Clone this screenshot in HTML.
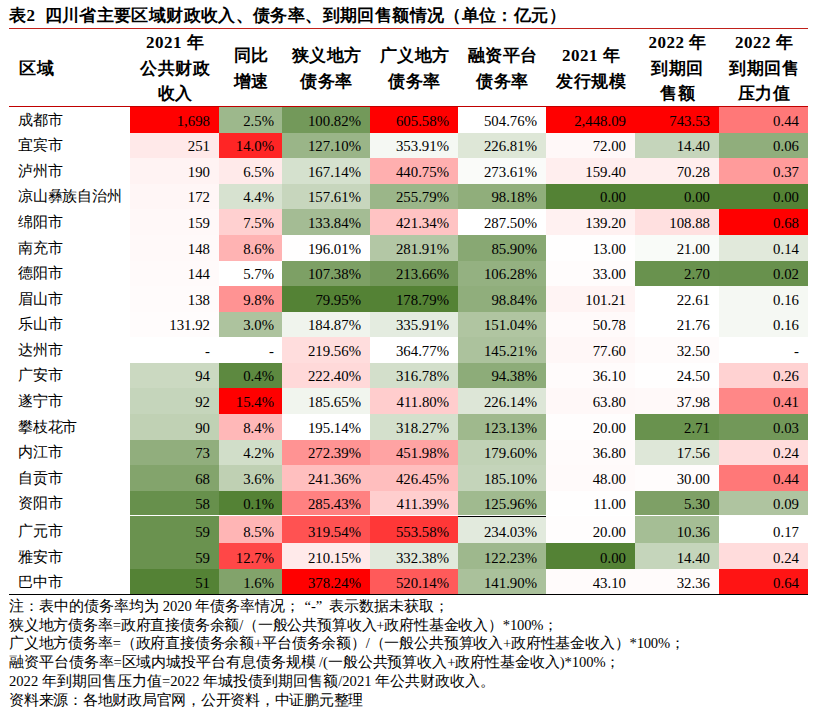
<!DOCTYPE html><html><head><meta charset="utf-8"><style>
*{margin:0;padding:0;box-sizing:border-box}
html,body{width:815px;height:717px;background:#fff;overflow:hidden}
body{position:relative;font-family:"Liberation Serif",serif;color:#000}
.a{position:absolute}
.t{position:absolute;left:9px;top:5px;font-size:17px;letter-spacing:0.38px;font-weight:bold;white-space:nowrap;line-height:22px}
.hl{position:absolute;height:1px}
.h{position:absolute;top:30px;height:77px;display:flex;align-items:center;justify-content:center;text-align:center;font-weight:bold;font-size:17px;line-height:25.5px;letter-spacing:0.5px;padding-left:1px}
.c{position:absolute;text-align:right;font-size:14.8px;padding-right:9px;white-space:nowrap}
.c span{position:absolute;right:9px;bottom:0;line-height:23px}
.c.p2 span{right:8px}
.n{position:absolute;left:18px;font-size:14.6px;letter-spacing:-0.2px;white-space:nowrap}
.n span{position:absolute;left:0;bottom:0;line-height:23px}
.note{position:absolute;left:9px;font-size:14.6px;line-height:18.7px;white-space:nowrap}
.q{margin:0 3px 0 4px}
</style></head><body>
<div class="t">表<span style="display:inline-block">2</span>&nbsp; 四川省主要区域财政收入、债务率、到期回售额情况（单位：亿元）</div>
<div class="hl" style="left:9px;top:28px;width:799px;background:#c0201a"></div>
<div class="h" style="left:18px;width:60px;justify-content:flex-start">区域</div>
<div class="h" style="left:130px;width:89px">2021 年<br>公共财政<br>收入</div>
<div class="h" style="left:219px;width:63px">同比<br>增速</div>
<div class="h" style="left:282px;width:88px">狭义地方<br>债务率</div>
<div class="h" style="left:370px;width:88px">广义地方<br>债务率</div>
<div class="h" style="left:458px;width:88px">融资平台<br>债务率</div>
<div class="h" style="left:546px;width:89px">2021 年<br>发行规模</div>
<div class="h" style="left:635px;width:84px">2022 年<br>到期回<br>售额</div>
<div class="h" style="left:719px;width:89px">2022 年<br>到期回售<br>压力值</div>
<div class="hl" style="left:9px;top:106px;width:799px;background:#c00000"></div>
<div class="n" style="top:107px;height:26px;width:110px"><span style="bottom:1px">成都市</span></div>
<div class="c" style="left:130px;top:107px;width:89px;height:26px;background:rgb(255, 0, 0);"><span>1,698</span></div>
<div class="c p2" style="left:219px;top:107px;width:63px;height:26px;background:rgb(157, 184, 140);"><span>2.5%</span></div>
<div class="c" style="left:282px;top:107px;width:88px;height:26px;background:rgb(115, 153, 90);"><span>100.82%</span></div>
<div class="c" style="left:370px;top:107px;width:88px;height:26px;background:rgb(255, 0, 0);"><span>605.58%</span></div>
<div class="c" style="left:458px;top:107px;width:88px;height:26px;background:rgb(255, 255, 255);"><span>504.76%</span></div>
<div class="c" style="left:546px;top:107px;width:89px;height:26px;background:rgb(255, 0, 0);"><span>2,448.09</span></div>
<div class="c" style="left:635px;top:107px;width:84px;height:26px;background:rgb(255, 0, 0);"><span>743.53</span></div>
<div class="c" style="left:719px;top:107px;width:89px;height:26px;background:rgb(255, 120, 120);"><span>0.44</span></div>
<div class="n" style="top:133px;height:25px;width:110px"><span style="bottom:1px">宜宾市</span></div>
<div class="c" style="left:130px;top:133px;width:89px;height:25px;background:rgb(255, 233, 233);"><span>251</span></div>
<div class="c p2" style="left:219px;top:133px;width:63px;height:25px;background:rgb(255, 37, 37);"><span>14.0%</span></div>
<div class="c" style="left:282px;top:133px;width:88px;height:25px;background:rgb(154, 181, 136);"><span>127.10%</span></div>
<div class="c" style="left:370px;top:133px;width:88px;height:25px;background:rgb(245, 248, 243);"><span>353.91%</span></div>
<div class="c" style="left:458px;top:133px;width:88px;height:25px;background:rgb(222, 231, 215);"><span>226.81%</span></div>
<div class="c" style="left:546px;top:133px;width:89px;height:25px;background:rgb(255, 248, 248);"><span>72.00</span></div>
<div class="c" style="left:635px;top:133px;width:84px;height:25px;background:rgb(197, 213, 187);"><span>14.40</span></div>
<div class="c" style="left:719px;top:133px;width:89px;height:25px;background:rgb(144, 174, 124);"><span>0.06</span></div>
<div class="n" style="top:158px;height:26px;width:110px"><span style="bottom:1px">泸州市</span></div>
<div class="c" style="left:130px;top:158px;width:89px;height:26px;background:rgb(255, 243, 243);"><span>190</span></div>
<div class="c p2" style="left:219px;top:158px;width:63px;height:26px;background:rgb(255, 234, 234);"><span>6.5%</span></div>
<div class="c" style="left:282px;top:158px;width:88px;height:26px;background:rgb(213, 225, 206);"><span>167.14%</span></div>
<div class="c" style="left:370px;top:158px;width:88px;height:26px;background:rgb(255, 175, 175);"><span>440.75%</span></div>
<div class="c" style="left:458px;top:158px;width:88px;height:26px;background:rgb(250, 251, 249);"><span>273.61%</span></div>
<div class="c" style="left:546px;top:158px;width:89px;height:26px;background:rgb(255, 238, 238);"><span>159.40</span></div>
<div class="c" style="left:635px;top:158px;width:84px;height:26px;background:rgb(255, 238, 238);"><span>70.28</span></div>
<div class="c" style="left:719px;top:158px;width:89px;height:26px;background:rgb(255, 155, 155);"><span>0.37</span></div>
<div class="n" style="top:184px;height:25px;width:110px"><span style="bottom:1px">凉山彝族自治州</span></div>
<div class="c" style="left:130px;top:184px;width:89px;height:25px;background:rgb(255, 246, 246);"><span>172</span></div>
<div class="c p2" style="left:219px;top:184px;width:63px;height:25px;background:rgb(215, 226, 208);"><span>4.4%</span></div>
<div class="c" style="left:282px;top:184px;width:88px;height:25px;background:rgb(199, 214, 189);"><span>157.61%</span></div>
<div class="c" style="left:370px;top:184px;width:88px;height:25px;background:rgb(155, 182, 137);"><span>255.79%</span></div>
<div class="c" style="left:458px;top:184px;width:88px;height:25px;background:rgb(144, 174, 123);"><span>98.18%</span></div>
<div class="c" style="left:546px;top:184px;width:89px;height:25px;background:rgb(84, 130, 53);"><span>0.00</span></div>
<div class="c" style="left:635px;top:184px;width:84px;height:25px;background:rgb(84, 130, 53);"><span>0.00</span></div>
<div class="c" style="left:719px;top:184px;width:89px;height:25px;background:rgb(84, 130, 53);"><span>0.00</span></div>
<div class="n" style="top:209px;height:26px;width:110px"><span style="bottom:1px">绵阳市</span></div>
<div class="c" style="left:130px;top:209px;width:89px;height:26px;background:rgb(255, 248, 248);"><span>159</span></div>
<div class="c p2" style="left:219px;top:209px;width:63px;height:26px;background:rgb(255, 208, 208);"><span>7.5%</span></div>
<div class="c" style="left:282px;top:209px;width:88px;height:26px;background:rgb(164, 188, 148);"><span>133.84%</span></div>
<div class="c" style="left:370px;top:209px;width:88px;height:26px;background:rgb(255, 195, 195);"><span>421.34%</span></div>
<div class="c" style="left:458px;top:209px;width:88px;height:26px;background:rgb(255, 255, 255);"><span>287.50%</span></div>
<div class="c" style="left:546px;top:209px;width:89px;height:26px;background:rgb(255, 241, 241);"><span>139.20</span></div>
<div class="c" style="left:635px;top:209px;width:84px;height:26px;background:rgb(255, 224, 224);"><span>108.88</span></div>
<div class="c" style="left:719px;top:209px;width:89px;height:26px;background:rgb(255, 0, 0);"><span>0.68</span></div>
<div class="n" style="top:235px;height:26px;width:110px"><span style="bottom:1px">南充市</span></div>
<div class="c" style="left:130px;top:235px;width:89px;height:26px;background:rgb(255, 249, 249);"><span>148</span></div>
<div class="c p2" style="left:219px;top:235px;width:63px;height:26px;background:rgb(255, 179, 179);"><span>8.6%</span></div>
<div class="c" style="left:282px;top:235px;width:88px;height:26px;background:rgb(255, 254, 254);"><span>196.01%</span></div>
<div class="c" style="left:370px;top:235px;width:88px;height:26px;background:rgb(179, 199, 165);"><span>281.91%</span></div>
<div class="c" style="left:458px;top:235px;width:88px;height:26px;background:rgb(136, 168, 115);"><span>85.90%</span></div>
<div class="c" style="left:546px;top:235px;width:89px;height:26px;background:rgb(255, 254, 254);"><span>13.00</span></div>
<div class="c" style="left:635px;top:235px;width:84px;height:26px;background:rgb(249, 251, 248);"><span>21.00</span></div>
<div class="c" style="left:719px;top:235px;width:89px;height:26px;background:rgb(225, 233, 219);"><span>0.14</span></div>
<div class="n" style="top:261px;height:25px;width:110px"><span style="bottom:1px">德阳市</span></div>
<div class="c" style="left:130px;top:261px;width:89px;height:25px;background:rgb(255, 250, 250);"><span>144</span></div>
<div class="c p2" style="left:219px;top:261px;width:63px;height:25px;background:rgb(255, 255, 255);"><span>5.7%</span></div>
<div class="c" style="left:282px;top:261px;width:88px;height:25px;background:rgb(125, 160, 101);"><span>107.38%</span></div>
<div class="c" style="left:370px;top:261px;width:88px;height:25px;background:rgb(116, 153, 91);"><span>213.66%</span></div>
<div class="c" style="left:458px;top:261px;width:88px;height:25px;background:rgb(148, 177, 129);"><span>106.28%</span></div>
<div class="c" style="left:546px;top:261px;width:89px;height:25px;background:rgb(255, 252, 252);"><span>33.00</span></div>
<div class="c" style="left:635px;top:261px;width:84px;height:25px;background:rgb(105, 146, 78);"><span>2.70</span></div>
<div class="c" style="left:719px;top:261px;width:89px;height:25px;background:rgb(104, 145, 77);"><span>0.02</span></div>
<div class="n" style="top:286px;height:26px;width:110px"><span style="bottom:1px">眉山市</span></div>
<div class="c" style="left:130px;top:286px;width:89px;height:26px;background:rgb(255, 251, 251);"><span>138</span></div>
<div class="c p2" style="left:219px;top:286px;width:63px;height:26px;background:rgb(255, 147, 147);"><span>9.8%</span></div>
<div class="c" style="left:282px;top:286px;width:88px;height:26px;background:rgb(84, 130, 53);"><span>79.95%</span></div>
<div class="c" style="left:370px;top:286px;width:88px;height:26px;background:rgb(84, 130, 53);"><span>178.79%</span></div>
<div class="c" style="left:458px;top:286px;width:88px;height:26px;background:rgb(144, 174, 124);"><span>98.84%</span></div>
<div class="c" style="left:546px;top:286px;width:89px;height:26px;background:rgb(255, 244, 244);"><span>101.21</span></div>
<div class="c" style="left:635px;top:286px;width:84px;height:26px;background:rgb(255, 255, 255);"><span>22.61</span></div>
<div class="c" style="left:719px;top:286px;width:89px;height:26px;background:rgb(245, 248, 243);"><span>0.16</span></div>
<div class="n" style="top:312px;height:25px;width:110px"><span style="bottom:1px">乐山市</span></div>
<div class="c" style="left:130px;top:312px;width:89px;height:25px;background:rgb(255, 252, 252);"><span>131.92</span></div>
<div class="c p2" style="left:219px;top:312px;width:63px;height:25px;background:rgb(173, 195, 158);"><span>3.0%</span></div>
<div class="c" style="left:282px;top:312px;width:88px;height:25px;background:rgb(240, 244, 237);"><span>184.87%</span></div>
<div class="c" style="left:370px;top:312px;width:88px;height:25px;background:rgb(228, 236, 224);"><span>335.91%</span></div>
<div class="c" style="left:458px;top:312px;width:88px;height:25px;background:rgb(176, 197, 161);"><span>151.04%</span></div>
<div class="c" style="left:546px;top:312px;width:89px;height:25px;background:rgb(255, 250, 250);"><span>50.78</span></div>
<div class="c" style="left:635px;top:312px;width:84px;height:25px;background:rgb(255, 255, 255);"><span>21.76</span></div>
<div class="c" style="left:719px;top:312px;width:89px;height:25px;background:rgb(245, 248, 243);"><span>0.16</span></div>
<div class="n" style="top:337px;height:26px;width:110px"><span style="bottom:1px">达州市</span></div>
<div class="c" style="left:130px;top:337px;width:89px;height:26px;"><span>-</span></div>
<div class="c p2" style="left:219px;top:337px;width:63px;height:26px;"><span>-</span></div>
<div class="c" style="left:282px;top:337px;width:88px;height:26px;background:rgb(255, 221, 221);"><span>219.56%</span></div>
<div class="c" style="left:370px;top:337px;width:88px;height:26px;background:rgb(255, 255, 255);"><span>364.77%</span></div>
<div class="c" style="left:458px;top:337px;width:88px;height:26px;background:rgb(172, 194, 157);"><span>145.21%</span></div>
<div class="c" style="left:546px;top:337px;width:89px;height:26px;background:rgb(255, 247, 247);"><span>77.60</span></div>
<div class="c" style="left:635px;top:337px;width:84px;height:26px;background:rgb(255, 251, 251);"><span>32.50</span></div>
<div class="c" style="left:719px;top:337px;width:89px;height:26px;"><span>-</span></div>
<div class="n" style="top:363px;height:25px;width:110px"><span style="bottom:1px">广安市</span></div>
<div class="c" style="left:130px;top:363px;width:89px;height:25px;background:rgb(203, 217, 193);"><span>94</span></div>
<div class="c p2" style="left:219px;top:363px;width:63px;height:25px;background:rgb(93, 137, 64);"><span>0.4%</span></div>
<div class="c" style="left:282px;top:363px;width:88px;height:25px;background:rgb(255, 217, 217);"><span>222.40%</span></div>
<div class="c" style="left:370px;top:363px;width:88px;height:25px;background:rgb(211, 223, 203);"><span>316.78%</span></div>
<div class="c" style="left:458px;top:363px;width:88px;height:25px;background:rgb(141, 172, 121);"><span>94.38%</span></div>
<div class="c" style="left:546px;top:363px;width:89px;height:25px;background:rgb(255, 251, 251);"><span>36.10</span></div>
<div class="c" style="left:635px;top:363px;width:84px;height:25px;background:rgb(255, 254, 254);"><span>24.50</span></div>
<div class="c" style="left:719px;top:363px;width:89px;height:25px;background:rgb(255, 210, 210);"><span>0.26</span></div>
<div class="n" style="top:388px;height:26px;width:110px"><span style="bottom:1px">遂宁市</span></div>
<div class="c" style="left:130px;top:388px;width:89px;height:26px;background:rgb(197, 213, 187);"><span>92</span></div>
<div class="c p2" style="left:219px;top:388px;width:63px;height:26px;background:rgb(255, 0, 0);"><span>15.4%</span></div>
<div class="c" style="left:282px;top:388px;width:88px;height:26px;background:rgb(241, 245, 238);"><span>185.65%</span></div>
<div class="c" style="left:370px;top:388px;width:88px;height:26px;background:rgb(255, 205, 205);"><span>411.80%</span></div>
<div class="c" style="left:458px;top:388px;width:88px;height:26px;background:rgb(221, 230, 215);"><span>226.14%</span></div>
<div class="c" style="left:546px;top:388px;width:89px;height:26px;background:rgb(255, 248, 248);"><span>63.80</span></div>
<div class="c" style="left:635px;top:388px;width:84px;height:26px;background:rgb(255, 249, 249);"><span>37.98</span></div>
<div class="c" style="left:719px;top:388px;width:89px;height:26px;background:rgb(255, 135, 135);"><span>0.41</span></div>
<div class="n" style="top:414px;height:26px;width:110px"><span style="bottom:1px">攀枝花市</span></div>
<div class="c" style="left:130px;top:414px;width:89px;height:26px;background:rgb(192, 209, 180);"><span>90</span></div>
<div class="c p2" style="left:219px;top:414px;width:63px;height:26px;background:rgb(255, 184, 184);"><span>8.4%</span></div>
<div class="c" style="left:282px;top:414px;width:88px;height:26px;background:rgb(255, 255, 255);"><span>195.14%</span></div>
<div class="c" style="left:370px;top:414px;width:88px;height:26px;background:rgb(212, 224, 204);"><span>318.27%</span></div>
<div class="c" style="left:458px;top:414px;width:88px;height:26px;background:rgb(159, 185, 141);"><span>123.13%</span></div>
<div class="c" style="left:546px;top:414px;width:89px;height:26px;background:rgb(255, 253, 253);"><span>20.00</span></div>
<div class="c" style="left:635px;top:414px;width:84px;height:26px;background:rgb(105, 146, 78);"><span>2.71</span></div>
<div class="c" style="left:719px;top:414px;width:89px;height:26px;background:rgb(114, 152, 89);"><span>0.03</span></div>
<div class="n" style="top:440px;height:25px;width:110px"><span style="bottom:1px">内江市</span></div>
<div class="c" style="left:130px;top:440px;width:89px;height:25px;background:rgb(145, 174, 125);"><span>73</span></div>
<div class="c p2" style="left:219px;top:440px;width:63px;height:25px;background:rgb(209, 222, 201);"><span>4.2%</span></div>
<div class="c" style="left:282px;top:440px;width:88px;height:25px;background:rgb(255, 147, 147);"><span>272.39%</span></div>
<div class="c" style="left:370px;top:440px;width:88px;height:25px;background:rgb(255, 163, 163);"><span>451.98%</span></div>
<div class="c" style="left:458px;top:440px;width:88px;height:25px;background:rgb(193, 210, 182);"><span>179.60%</span></div>
<div class="c" style="left:546px;top:440px;width:89px;height:25px;background:rgb(255, 251, 251);"><span>36.80</span></div>
<div class="c" style="left:635px;top:440px;width:84px;height:25px;background:rgb(222, 231, 216);"><span>17.56</span></div>
<div class="c" style="left:719px;top:440px;width:89px;height:25px;background:rgb(255, 220, 220);"><span>0.24</span></div>
<div class="n" style="top:465px;height:26px;width:110px"><span style="bottom:1px">自贡市</span></div>
<div class="c" style="left:130px;top:465px;width:89px;height:26px;background:rgb(131, 164, 108);"><span>68</span></div>
<div class="c p2" style="left:219px;top:465px;width:63px;height:26px;background:rgb(191, 208, 179);"><span>3.6%</span></div>
<div class="c" style="left:282px;top:465px;width:88px;height:26px;background:rgb(255, 191, 191);"><span>241.36%</span></div>
<div class="c" style="left:370px;top:465px;width:88px;height:26px;background:rgb(255, 190, 190);"><span>426.45%</span></div>
<div class="c" style="left:458px;top:465px;width:88px;height:26px;background:rgb(196, 212, 186);"><span>185.10%</span></div>
<div class="c" style="left:546px;top:465px;width:89px;height:26px;background:rgb(255, 250, 250);"><span>48.00</span></div>
<div class="c" style="left:635px;top:465px;width:84px;height:26px;background:rgb(255, 252, 252);"><span>30.00</span></div>
<div class="c" style="left:719px;top:465px;width:89px;height:26px;background:rgb(255, 120, 120);"><span>0.44</span></div>
<div class="n" style="top:491px;height:25px;width:110px"><span style="bottom:1px">资阳市</span></div>
<div class="c" style="left:130px;top:491px;width:89px;height:25px;background:rgb(103, 144, 76);"><span>58</span></div>
<div class="c p2" style="left:219px;top:491px;width:63px;height:25px;background:rgb(84, 130, 53);"><span>0.1%</span></div>
<div class="c" style="left:282px;top:491px;width:88px;height:25px;background:rgb(255, 129, 129);"><span>285.43%</span></div>
<div class="c" style="left:370px;top:491px;width:88px;height:25px;background:rgb(255, 206, 206);"><span>411.39%</span></div>
<div class="c" style="left:458px;top:491px;width:88px;height:25px;background:rgb(160, 186, 143);"><span>125.96%</span></div>
<div class="c" style="left:546px;top:491px;width:89px;height:25px;background:rgb(255, 254, 254);"><span>11.00</span></div>
<div class="c" style="left:635px;top:491px;width:84px;height:25px;background:rgb(126, 160, 102);"><span>5.30</span></div>
<div class="c" style="left:719px;top:491px;width:89px;height:25px;background:rgb(175, 196, 160);"><span>0.09</span></div>
<div class="n" style="top:516px;height:27px;width:110px"><span style="bottom:0px">广元市</span></div>
<div class="c" style="left:130px;top:516px;width:89px;height:27px;background:rgb(106, 146, 79);"><span style="bottom:-1px">59</span></div>
<div class="c p2" style="left:219px;top:516px;width:63px;height:27px;background:rgb(255, 181, 181);"><span style="bottom:-1px">8.5%</span></div>
<div class="c" style="left:282px;top:516px;width:88px;height:27px;background:rgb(255, 82, 82);"><span style="bottom:-1px">319.54%</span></div>
<div class="c" style="left:370px;top:516px;width:88px;height:27px;background:rgb(255, 55, 55);"><span style="bottom:-1px">553.58%</span></div>
<div class="c" style="left:458px;top:516px;width:88px;height:27px;background:rgb(226, 234, 221);"><span style="bottom:-1px">234.03%</span></div>
<div class="c" style="left:546px;top:516px;width:89px;height:27px;background:rgb(255, 253, 253);"><span style="bottom:-1px">20.00</span></div>
<div class="c" style="left:635px;top:516px;width:84px;height:27px;background:rgb(165, 190, 149);"><span style="bottom:-1px">10.36</span></div>
<div class="c" style="left:719px;top:516px;width:89px;height:27px;background:rgb(255, 255, 255);"><span style="bottom:-1px">0.17</span></div>
<div class="n" style="top:543px;height:26px;width:110px"><span style="bottom:0px">雅安市</span></div>
<div class="c" style="left:130px;top:543px;width:89px;height:26px;background:rgb(106, 146, 79);"><span style="bottom:-1px">59</span></div>
<div class="c p2" style="left:219px;top:543px;width:63px;height:26px;background:rgb(255, 71, 71);"><span style="bottom:-1px">12.7%</span></div>
<div class="c" style="left:282px;top:543px;width:88px;height:26px;background:rgb(255, 234, 234);"><span style="bottom:-1px">210.15%</span></div>
<div class="c" style="left:370px;top:543px;width:88px;height:26px;background:rgb(225, 233, 220);"><span style="bottom:-1px">332.38%</span></div>
<div class="c" style="left:458px;top:543px;width:88px;height:26px;background:rgb(158, 184, 141);"><span style="bottom:-1px">122.23%</span></div>
<div class="c" style="left:546px;top:543px;width:89px;height:26px;background:rgb(84, 130, 53);"><span style="bottom:-1px">0.00</span></div>
<div class="c" style="left:635px;top:543px;width:84px;height:26px;background:rgb(197, 213, 187);"><span style="bottom:-1px">14.40</span></div>
<div class="c" style="left:719px;top:543px;width:89px;height:26px;background:rgb(255, 220, 220);"><span style="bottom:-1px">0.24</span></div>
<div class="n" style="top:569px;height:25px;width:110px"><span style="bottom:0px">巴中市</span></div>
<div class="c" style="left:130px;top:569px;width:89px;height:25px;background:rgb(84, 130, 53);"><span style="bottom:-1px">51</span></div>
<div class="c p2" style="left:219px;top:569px;width:63px;height:25px;background:rgb(130, 163, 107);"><span style="bottom:-1px">1.6%</span></div>
<div class="c" style="left:282px;top:569px;width:88px;height:25px;background:rgb(255, 0, 0);"><span style="bottom:-1px">378.24%</span></div>
<div class="c" style="left:370px;top:569px;width:88px;height:25px;background:rgb(255, 90, 90);"><span style="bottom:-1px">520.14%</span></div>
<div class="c" style="left:458px;top:569px;width:88px;height:25px;background:rgb(170, 193, 155);"><span style="bottom:-1px">141.90%</span></div>
<div class="c" style="left:546px;top:569px;width:89px;height:25px;background:rgb(255, 251, 251);"><span style="bottom:-1px">43.10</span></div>
<div class="c" style="left:635px;top:569px;width:84px;height:25px;background:rgb(255, 251, 251);"><span style="bottom:-1px">32.36</span></div>
<div class="c" style="left:719px;top:569px;width:89px;height:25px;background:rgb(255, 20, 20);"><span style="bottom:-1px">0.64</span></div>
<div class="a" style="left:130px;top:515px;width:678px;height:1px;background:#fff"></div>
<div class="a" style="left:458px;top:516px;width:88px;height:1px;background:#000"></div>
<div class="hl" style="left:9px;top:594px;width:799px;background:#000"></div>
<div class="note" style="top:597.0px;letter-spacing:0.0px">注：表中的债务率均为 2020 年债务率情况；<span class=q>“-”</span> 表示数据未获取；</div>
<div class="note" style="top:615.7px;letter-spacing:-0.19px">狭义地方债务率=政府直接债务余额/（一般公共预算收入+政府性基金收入）*100%；</div>
<div class="note" style="top:634.4px;letter-spacing:-0.187px">广义地方债务率=（政府直接债务余额+平台债务余额）/（一般公共预算收入+政府性基金收入）*100%；</div>
<div class="note" style="top:653.1px;letter-spacing:-0.082px">融资平台债务率=区域内城投平台有息债务规模 /(一般公共预算收入+政府性基金收入)*100%；</div>
<div class="note" style="top:671.8px;letter-spacing:0.011px">2022 年到期回售压力值=2022 年城投债到期回售额/2021 年公共财政收入。</div>
<div class="note" style="top:690.5px;letter-spacing:-0.243px">资料来源：各地财政局官网，公开资料，中证鹏元整理</div>
</body></html>
